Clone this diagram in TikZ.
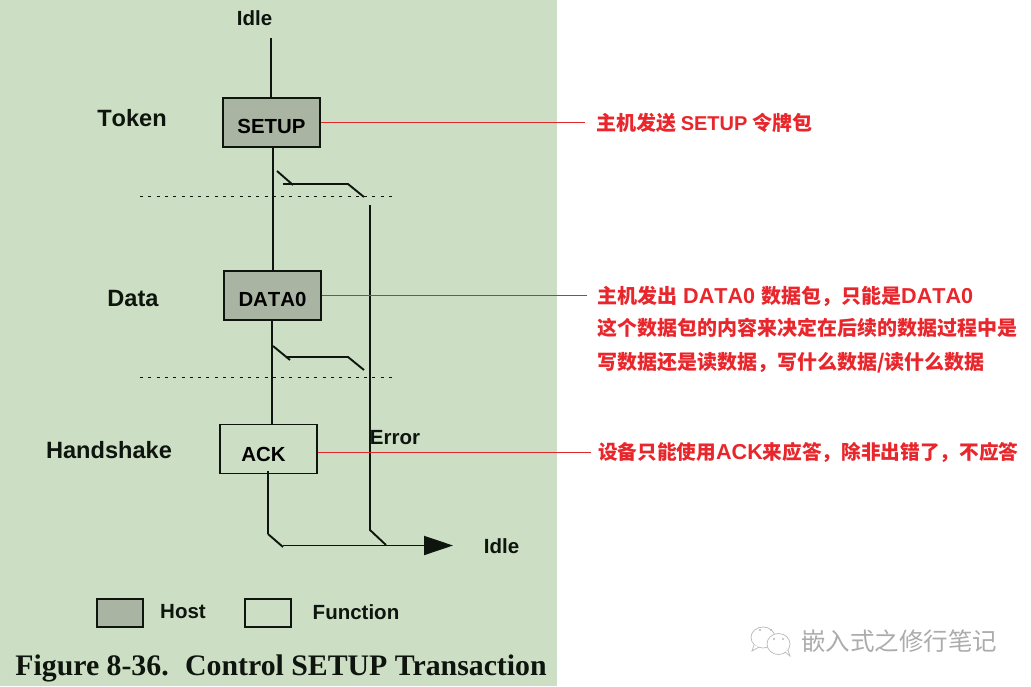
\documentclass[tikz,border=0pt]{standalone}
\usepackage{fontspec}
\setmainfont{Liberation Sans}[Kerning=Off]
\newfontfamily\serifbold{Liberation Serif}
\newfontfamily\cjk{Noto Sans CJK SC}
\newfontfamily\latinbold{Liberation Sans}[Kerning=Off]
\usetikzlibrary{arrows.meta}

\definecolor{panelgreen}{HTML}{CCDFC4}
\definecolor{hostgray}{HTML}{A9B5A2}
\definecolor{notered}{HTML}{E8262B}
\definecolor{leaderred}{HTML}{E0282C}
\definecolor{inkblack}{HTML}{0E140E}

\newcommand{\lat}[2][21.6]{{\fontsize{#1}{24}\selectfont\latinbold\bfseries #2}}

\tikzset{
    hostbox/.style={draw=inkblack, line width=1.9pt, fill=hostgray, minimum width=97pt, minimum height=49pt, inner sep=0pt, text height=21pt, text depth=0pt, font=\fontsize{20.4}{22}\selectfont\bfseries},
    funcbox/.style={hostbox, fill=panelgreen, text height=24pt},
    legendbox/.style={draw=inkblack, line width=1.3pt, minimum width=46pt, minimum height=28pt, inner sep=0pt},
    wire/.style={draw=inkblack, line width=1.9pt},
    tick/.style={draw=inkblack, line width=1.9pt},
    phase/.style={font=\fontsize{23.6}{26}\selectfont\bfseries, text=inkblack, inner sep=0pt},
    tag/.style={font=\fontsize{20.5}{24}\selectfont\bfseries, text=inkblack, inner sep=0pt},
    leader/.style={draw=leaderred, line width=0.9pt},
    note/.style={font=\fontsize{20}{24}\selectfont\cjk\bfseries, text=notered, anchor=west, inner sep=0pt},
    notesmall/.style={note, font=\fontsize{19.65}{24}\selectfont\cjk\bfseries},
    divider/.style={draw=inkblack, line width=0.8pt, dash pattern=on 3pt off 5.3pt},
    bubble/.style={draw=gray!55, line width=0.7pt, fill=white}
}

\begin{document}
\begin{tikzpicture}[x=1pt, y=-1pt]
    \useasboundingbox (0,0) rectangle (1031,686);
    \fill[white] (0,0) rectangle (1031,686);
    \fill[panelgreen] (0,0) rectangle (557,686);

    \coordinate (idletop) at (271,38);
    \coordinate (errortop) at (370,205);
    \coordinate (errorbend) at (370,530);
    \coordinate (errorjoin) at (386,545);
    \coordinate (ackbend) at (268,534);
    \coordinate (ackjoin) at (283,547);
    \coordinate (busstart) at (283,545.5);
    \coordinate (bustip) at (453,545.5);

    % boxes
    \node (setup) at (271.5,122.5) [hostbox] {SETUP};
    \node (data) at (272.5,295.5) [hostbox] {DATA0};
    \node (ack) at (268.5,449) [funcbox] {ACK\kern10pt};
    \node (hostkey) at (120,613) [legendbox, fill=hostgray] {};
    \node (funckey) at (268,613) [legendbox] {};

    % labels
    \foreach \name/\xpos/\ypos/\kind/\txt in {
        idlea/254.5/18/tag/Idle, token/132/118/phase/Token, datalabel/133/298/phase/Data,
        handshake/109/450/phase/Handshake, error/395/438/tag/Error, idleb/501.5/546/tag/Idle,
        hostlabel/183/612/tag/Host, funclabel/356/612/tag/Function}
    {
        \node (\name) at (\xpos,\ypos) [\kind] {\txt};
    }
    \node (caption) at (281,668.5) [font=\fontsize{29.8}{32}\selectfont\serifbold\bfseries, text=inkblack, inner sep=0pt] {Figure 8-36.\hspace{0.55em}Control SETUP Transaction};

    % main path
    \draw[wire] (idletop) -- (idletop |- setup.north);
    \draw[wire] ([xshift=1.5pt]setup.south) -- ([xshift=0.5pt]data.north);
    \draw[wire] ([xshift=-0.5pt]data.south) -- ([xshift=3.5pt]ack.north);
    \draw[wire] ([yshift=3pt,xshift=-0.5pt]ack.south) -- (ackbend);
    \draw[tick] (ackbend) -- (ackjoin);
    \draw[wire, -{Triangle[length=29pt,width=19pt]}] (busstart) -- (bustip);

    % error path
    \draw[wire] (errortop) -- (errorbend) -- (errorjoin);
    \foreach \ya/\yb/\yc/\xa/\xb/\xc in {171/185/184/277/293/283, 346/360/357/273/290/287}
    {
        \draw[tick] (\xa,\ya) -- (\xb,\yb);
        \draw[tick] (\xc,\yc) -- (348,\yc) -- (364,\yc+13);
    }
    \draw[divider] (140,196) -- (392,196);
    \draw[divider] (140,377) -- (392,377);

    % notes
    \node (notesetup) at (596,122.5) [note] {主机发送 \lat[20]{SETUP} 令牌包};
    \node (notedata) at (597,296) [note] {主机发出\hspace{6pt}\lat{DATA0}\hspace{6pt}数据包，只能是\lat{DATA0}};
    \node (notedatab) at (597,328) [note] {这个数据包的内容来决定在后续的数据过程中是};
    \node (notedatac) at (597,363) [note] {写数据还是读数据，写什么数据/读什么数据};
    \node (noteack) at (598,452.5) [notesmall] {设备只能使用\lat{ACK}来应答，除非出错了，不应答};
    \draw[leader, shorten >=11pt] (setup.east) -- (setup.east -| notesetup.west);
    \draw[leader, shorten >=10pt] (data.east) -- (data.east -| notedata.west);
    \draw[leader, shorten >=7pt] (ack.east |- noteack.west) -- (noteack.west);

    % watermark
    \draw[bubble] (763,637.5) ellipse (12pt and 10.5pt);
    \draw[bubble] (754,645) -- (752,651) -- (759,647);
    \draw[bubble] (778.5,644) ellipse (11.5pt and 10.5pt);
    \draw[bubble] (785,652) -- (790,656) -- (788,650);
    \foreach \dotx/\doty in {760/630, 771/630, 774/639, 783/639}
    {
        \fill[gray!55] (\dotx,\doty) circle (1.1pt);
    }
    \node (mark) at (899,641) [font=\fontsize{24.5}{26}\selectfont\cjk, text=gray!65, inner sep=0pt] {嵌入式之修行笔记};
\end{tikzpicture}
\end{document}
